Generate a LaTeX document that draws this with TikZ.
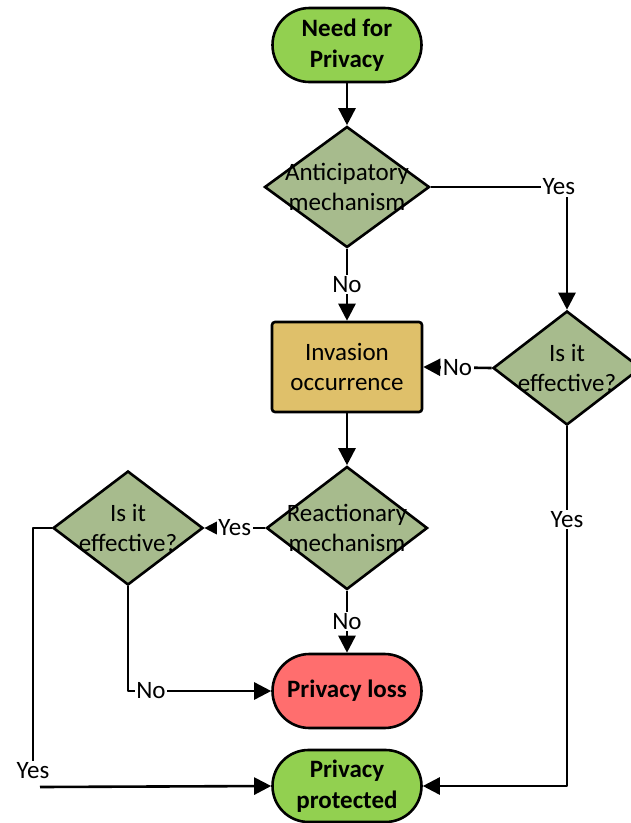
\documentclass[tikz,border=0pt]{standalone}
\usepackage{fontspec}
\setmainfont{Carlito}
\usetikzlibrary{shapes.geometric,shapes.misc,arrows.meta}

\definecolor{termgreen}{RGB}{146,208,80}
\definecolor{decgreen}{RGB}{167,187,141}
\definecolor{procgold}{RGB}{223,192,106}
\definecolor{lossred}{RGB}{255,110,110}

\tikzset{
  outline/.style={draw=black, line width=2.6pt},
  terminal/.style={outline, rounded rectangle, minimum width=149pt,
    minimum height=74pt, inner sep=0pt, align=center,
    font=\fontsize{25}{31}\selectfont\bfseries},
  process/.style={outline, rectangle, rounded corners=3pt, fill=procgold,
    minimum width=150pt, minimum height=90pt, inner sep=0pt, align=center,
    font=\fontsize{25}{30}\selectfont},
  decision/.style={outline, diamond, fill=decgreen, inner sep=0pt},
  dectext/.style={inner sep=0pt, align=center, font=\fontsize{25}{30}\selectfont},
  lbl/.style={fill=white, inner sep=1.5pt, font=\fontsize{25}{30}\selectfont},
  link/.style={line width=2.6pt, line join=round},
  flow/.style={link, -{Triangle[length=17pt,width=17pt]}}
}

\begin{document}
\begin{tikzpicture}[x=1pt, y=-1pt]
  \useasboundingbox (0,0) rectangle (630,823);

  % terminals and process
  \node[terminal, fill=termgreen] (need) at (347,45) {Need for\\Privacy};
  \node[process] (inv) at (347,367) {Invasion\\occurrence};
  \node[terminal, fill=lossred] (loss) at (347,691) {Privacy loss};
  \node[terminal, fill=termgreen, minimum height=72pt] (prot) at (347,786) {Privacy\\protected};

  % decisions (text set on top so it may overhang the diamond)
  \node[decision, minimum width=165pt, minimum height=121pt] (ant) at (347,187) {};
  \node[dectext] (antT) at (ant.center) {Anticipatory\\mechanism};
  \node[decision, minimum width=148pt, minimum height=114pt] (eff2) at (567,368) {};
  \node[dectext] (eff2T) at (eff2.center) {Is it\\effective?};
  \node[decision, minimum width=161pt, minimum height=123pt] (react) at (347,528) {};
  \node[dectext] (reactT) at (react.center) {Reactionary\\mechanism};
  \node[decision, minimum width=150pt, minimum height=114pt] (eff1) at (128,528) {};
  \node[dectext] (eff1T) at (eff1.center) {Is it\\effective?};

  % connectors
  \draw[flow] (need.south) -- (ant.north);
  \draw[flow] (ant.south) -- node[lbl] (noA) {No} (inv.north);
  \draw[flow] (ant.east) -| node[lbl, pos=0.47] (yesA) {Yes} (eff2.north);
  \draw[flow] (eff2.west) -- node[lbl] (noE2) {No} (inv.east);
  \draw[flow] (inv.south) -- (react.north);
  \draw[flow] (react.west) -- node[lbl] (yesR) {Yes} (eff1.east);
  \draw[flow] (react.south) -- node[lbl] (noR) {No} (loss.north);
  \draw[flow] (eff1.south) |- node[lbl, pos=0.58] (noE1) {No} (loss.west);
  \draw[flow] (eff2.south) |- node[lbl, pos=0.13] (yesE2) {Yes} (prot.east);

  \node[lbl] (yesL) at (33,771) {Yes};
  \coordinate (yesLend) at (40,787);
  \draw[link] (eff1.west) -| (yesL.north);
  \draw[flow] (yesLend) -- (prot.west);
\end{tikzpicture}
\end{document}
